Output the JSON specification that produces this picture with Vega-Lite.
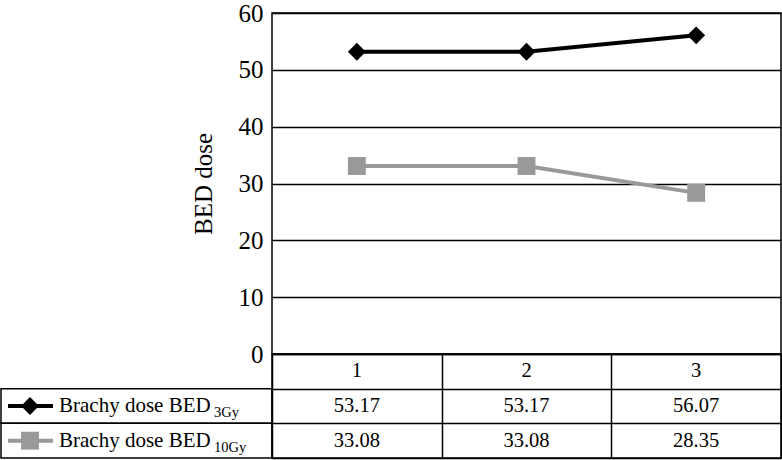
{
  "$schema": "https://vega.github.io/schema/vega-lite/v6.json",
  "padding": {"left": 0, "top": 0, "right": 1, "bottom": 1},
  "background": "white",
  "config": {
    "font": "Liberation Serif",
    "view": {"stroke": "black", "strokeWidth": 1.5},
    "axis": {"gridColor": "black", "gridWidth": 1.5, "gridOpacity": 1, "labelColor": "black", "titleColor": "black"},
    "text": {"color": "black", "font": "Liberation Serif"}
  },
  "datasets": {
    "doses": [
      {"n": "1", "series": "BED3Gy", "value": 53.17},
      {"n": "2", "series": "BED3Gy", "value": 53.17},
      {"n": "3", "series": "BED3Gy", "value": 56.07},
      {"n": "1", "series": "BED10Gy", "value": 33.08},
      {"n": "2", "series": "BED10Gy", "value": 33.08},
      {"n": "3", "series": "BED10Gy", "value": 28.35}
    ],
    "legend": [
      {"series": "BED3Gy", "label": "Brachy dose BED", "sub": "3Gy"},
      {"series": "BED10Gy", "label": "Brachy dose BED", "sub": "10Gy"}
    ]
  },
  "columns": 2,
  "spacing": 0,
  "bounds": "flush",
  "align": "each",
  "concat": [
    {
      "width": 271, "height": 341,
      "view": {"stroke": null},
      "data": {"values": []},
      "mark": "text",
      "encoding": {}
    },
    {
      "width": 509, "height": 341,
      "data": {"name": "doses"},
      "encoding": {
        "x": {"field": "n", "type": "ordinal", "axis": null, "scale": {"domain": ["1", "2", "3"]}},
        "y": {
          "field": "value", "type": "quantitative",
          "scale": {"domain": [0, 60], "nice": false},
          "axis": {
            "values": [0, 10, 20, 30, 40, 50, 60], "grid": true, "domain": false, "ticks": false,
            "labelFontSize": 25, "labelPadding": 9, "labelFont": "Liberation Serif",
            "title": "BED dose", "titleFontSize": 25, "titleFontWeight": "normal", "titleFont": "Liberation Serif", "titlePadding": 22
          }
        },
        "color": {"field": "series", "type": "nominal", "scale": {"domain": ["BED3Gy", "BED10Gy"], "range": ["#000000", "#999999"]}, "legend": null}
      },
      "layer": [
        {"mark": {"type": "line", "strokeWidth": 4}},
        {
          "mark": {"type": "point", "filled": true, "opacity": 1, "size": 320},
          "encoding": {"shape": {"field": "series", "type": "nominal", "scale": {"domain": ["BED3Gy", "BED10Gy"], "range": ["diamond", "square"]}, "legend": null}}
        }
      ]
    },
    {
      "width": 271, "height": 104,
      "view": {"stroke": null},
      "data": {"name": "legend"},
      "layer": [
        {
          "mark": {"type": "rect", "fill": "white", "stroke": "black", "strokeWidth": 1.5},
          "encoding": {"y": {"field": "series", "type": "nominal", "scale": {"type": "band", "domain": ["hdr", "BED3Gy", "BED10Gy"], "paddingInner": 0, "paddingOuter": 0}, "axis": null}}
        },
        {
          "mark": {"type": "rule", "x": 7, "x2": 52, "strokeWidth": 4},
          "encoding": {
            "y": {"field": "series", "type": "nominal", "bandPosition": 0.5},
            "color": {"field": "series", "type": "nominal", "legend": null}
          }
        },
        {
          "mark": {"type": "point", "x": 29, "filled": true, "opacity": 1, "size": 320},
          "encoding": {
            "y": {"field": "series", "type": "nominal", "bandPosition": 0.5},
            "color": {"field": "series", "type": "nominal", "legend": null},
            "shape": {"field": "series", "type": "nominal", "legend": null}
          }
        },
        {
          "mark": {"type": "text", "x": 58, "align": "left", "baseline": "middle", "fontSize": 21},
          "encoding": {
            "y": {"field": "series", "type": "nominal", "bandPosition": 0.5},
            "text": {"field": "label"}
          }
        },
        {
          "mark": {"type": "text", "x": 213, "dy": 7, "align": "left", "baseline": "middle", "fontSize": 14.5},
          "encoding": {
            "y": {"field": "series", "type": "nominal", "bandPosition": 0.5},
            "text": {"field": "sub"}
          }
        }
      ]
    },
    {
      "width": 509, "height": 104,
      "data": {"name": "doses"},
      "encoding": {
        "x": {
          "field": "n", "type": "ordinal",
          "scale": {"type": "band", "domain": ["1", "2", "3"], "paddingInner": 0, "paddingOuter": 0},
          "axis": {"grid": true, "tickBand": "extent", "labels": false, "ticks": false, "domain": false, "title": null}
        }
      },
      "layer": [
        {
          "mark": {"type": "text", "fontSize": 20.5, "baseline": "middle"},
          "encoding": {
            "y": {
              "field": "series", "type": "nominal", "bandPosition": 0.5,
              "scale": {"type": "band", "domain": ["hdr", "BED3Gy", "BED10Gy"], "paddingInner": 0, "paddingOuter": 0},
              "axis": {"grid": true, "tickBand": "extent", "labels": false, "ticks": false, "domain": false, "title": null}
            },
            "text": {"field": "value", "type": "quantitative", "format": ".2f"}
          }
        },
        {
          "transform": [{"filter": "datum.series === 'BED3Gy'"}],
          "mark": {"type": "text", "fontSize": 20.5, "baseline": "middle"},
          "encoding": {
            "y": {"datum": "hdr", "type": "nominal", "bandPosition": 0.5},
            "text": {"field": "n"}
          }
        }
      ]
    }
  ]
}
